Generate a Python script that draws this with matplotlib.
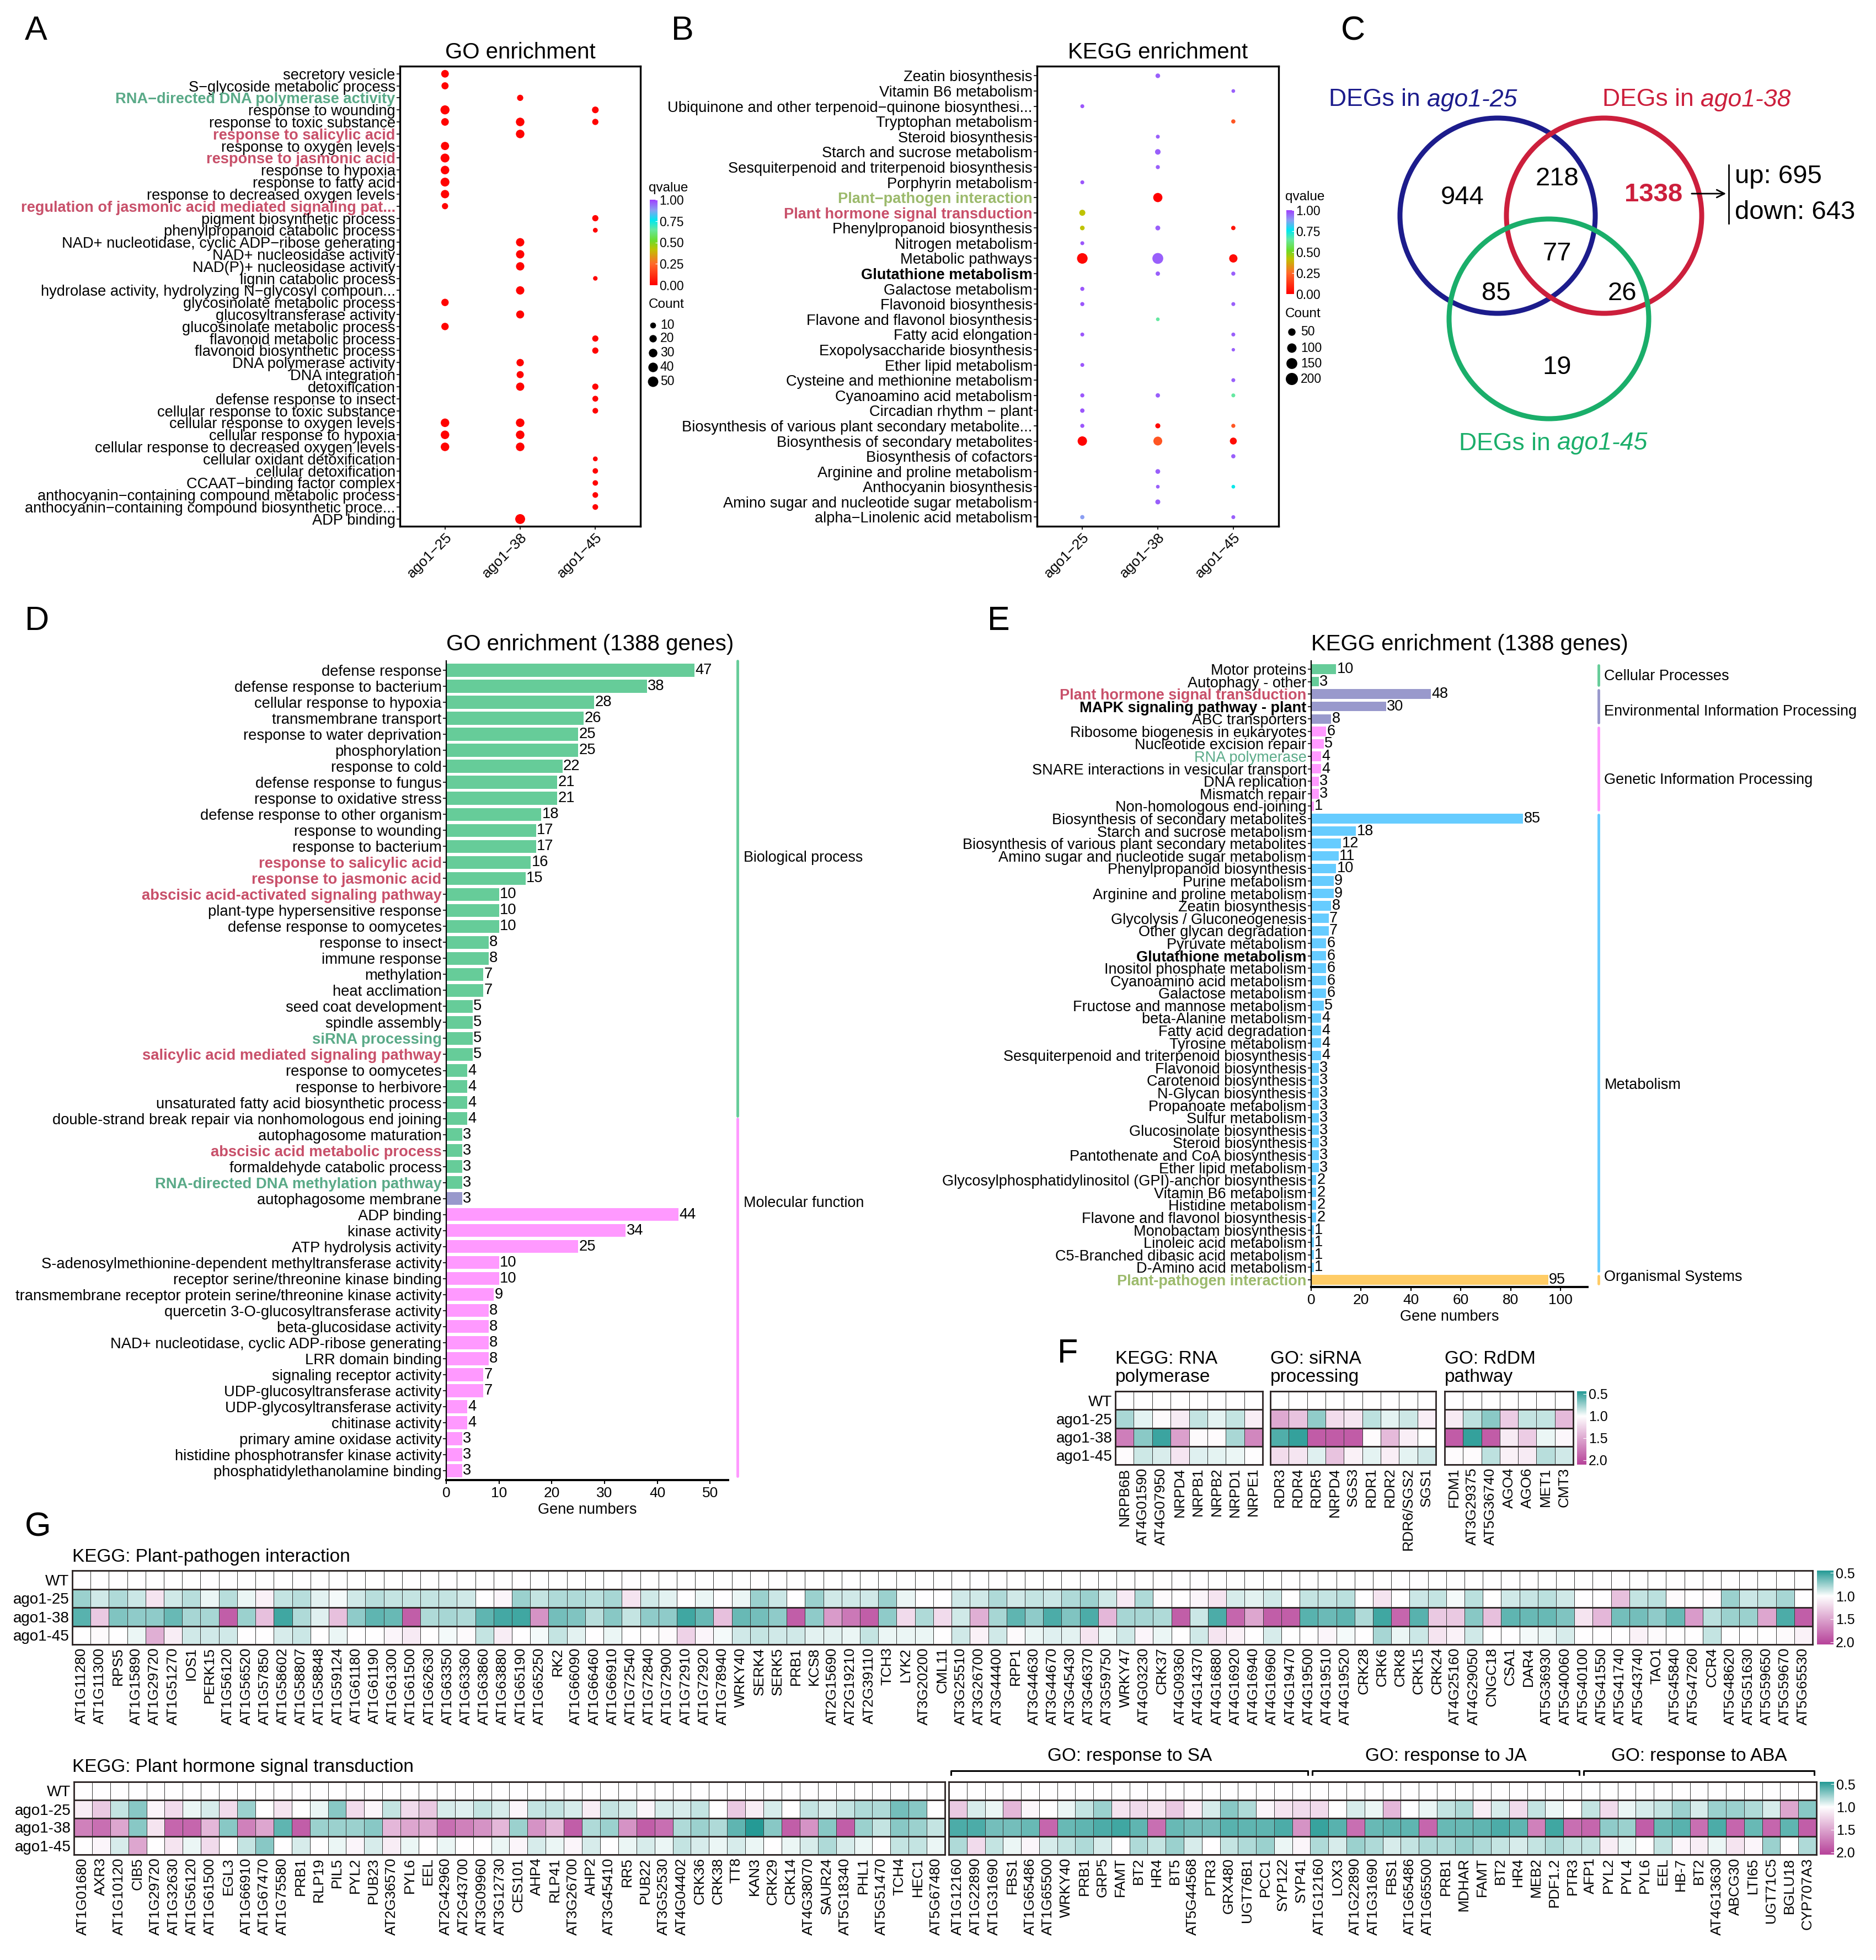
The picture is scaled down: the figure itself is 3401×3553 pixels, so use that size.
import numpy as np
import matplotlib
matplotlib.use('Agg')
import matplotlib.pyplot as plt
from matplotlib.colors import LinearSegmentedColormap, TwoSlopeNorm
from matplotlib.patches import Circle

W, H = 3401, 3553
plt.rcParams['font.family'] = ['Liberation Sans', 'DejaVu Sans']
fig = plt.figure(figsize=(W / 100, H / 100), dpi=100)

RED = '#c8506a'
GRN = '#5aaa88'
OLV = '#9cba6c'

# ---------------- data ----------------
samples = ['ago1−25', 'ago1−38', 'ago1−45']

A_terms = ["secretory vesicle", "S−glycoside metabolic process", "RNA−directed DNA polymerase activity",
           "response to wounding", "response to toxic substance", "response to salicylic acid",
           "response to oxygen levels", "response to jasmonic acid", "response to hypoxia",
           "response to fatty acid", "response to decreased oxygen levels",
           "regulation of jasmonic acid mediated signaling pat...", "pigment biosynthetic process",
           "phenylpropanoid catabolic process", "NAD+ nucleotidase, cyclic ADP−ribose generating",
           "NAD+ nucleosidase activity", "NAD(P)+ nucleosidase activity", "lignin catabolic process",
           "hydrolase activity, hydrolyzing N−glycosyl compoun...", "glycosinolate metabolic process",
           "glucosyltransferase activity", "glucosinolate metabolic process", "flavonoid metabolic process",
           "flavonoid biosynthetic process", "DNA polymerase activity", "DNA integration", "detoxification",
           "defense response to insect", "cellular response to toxic substance",
           "cellular response to oxygen levels", "cellular response to hypoxia",
           "cellular response to decreased oxygen levels", "cellular oxidant detoxification",
           "cellular detoxification", "CCAAT−binding factor complex",
           "anthocyanin−containing compound metabolic process",
           "anthocyanin−containing compound biosynthetic proce...", "ADP binding"]
A_count_25 = [22, 18, 0, 35, 22, 0, 27, 33, 30, 33, 28, 12, 0, 0, 0, 0, 0, 0, 0, 20, 0, 20, 0, 0, 0, 0, 0, 0, 0, 30, 30, 30, 0, 0, 0, 0, 0, 0]
A_count_38 = [0, 0, 12, 0, 30, 30, 0, 0, 0, 0, 0, 0, 0, 0, 28, 28, 28, 0, 28, 0, 25, 0, 0, 0, 20, 18, 27, 0, 0, 30, 30, 30, 0, 0, 0, 0, 0, 44]
A_count_45 = [0, 0, 0, 15, 12, 0, 0, 0, 0, 0, 0, 0, 12, 5, 0, 0, 0, 4, 0, 0, 0, 0, 12, 12, 0, 0, 12, 10, 9, 0, 0, 0, 5, 8, 8, 9, 9, 0]
A_q_25 = [0.01] * 38
A_q_38 = [0.01] * 38
A_q_45 = [0.01] * 38
A_red = {"response to salicylic acid", "response to jasmonic acid",
         "regulation of jasmonic acid mediated signaling pat..."}
A_green = {"RNA−directed DNA polymerase activity"}

B_terms = ["Zeatin biosynthesis", "Vitamin B6 metabolism", "Ubiquinone and other terpenoid−quinone biosynthesi...",
           "Tryptophan metabolism", "Steroid biosynthesis", "Starch and sucrose metabolism",
           "Sesquiterpenoid and triterpenoid biosynthesis", "Porphyrin metabolism", "Plant−pathogen interaction",
           "Plant hormone signal transduction", "Phenylpropanoid biosynthesis", "Nitrogen metabolism",
           "Metabolic pathways", "Glutathione metabolism", "Galactose metabolism", "Flavonoid biosynthesis",
           "Flavone and flavonol biosynthesis", "Fatty acid elongation", "Exopolysaccharide biosynthesis",
           "Ether lipid metabolism", "Cysteine and methionine metabolism", "Cyanoamino acid metabolism",
           "Circadian rhythm − plant", "Biosynthesis of various plant secondary metabolite...",
           "Biosynthesis of secondary metabolites", "Biosynthesis of cofactors", "Arginine and proline metabolism",
           "Anthocyanin biosynthesis", "Amino sugar and nucleotide sugar metabolism", "alpha−Linolenic acid metabolism"]
B_count_25 = [0, 0, 3, 0, 0, 0, 0, 3, 0, 25, 8, 3, 140, 0, 4, 4, 0, 3, 0, 3, 0, 4, 6, 4, 100, 0, 0, 0, 0, 5]
B_q_25 = [1, 1, 0.97, 1, 1, 1, 1, 0.97, 1, 0.42, 0.42, 0.97, 0.02, 1, 0.97, 0.97, 1, 0.97, 1, 0.97, 1, 0.97, 0.97, 0.97, 0.01, 1, 1, 1, 1, 0.88]
B_count_38 = [8, 0, 0, 0, 3, 18, 4, 0, 95, 0, 10, 0, 150, 6, 0, 0, 2, 0, 0, 0, 0, 6, 0, 12, 85, 0, 9, 2, 11, 0]
B_q_38 = [0.96, 1, 1, 1, 0.96, 0.96, 0.96, 1, 0.0, 1, 0.96, 1, 0.96, 0.96, 1, 1, 0.65, 1, 1, 1, 1, 0.96, 1, 0.02, 0.2, 1, 0.96, 0.96, 0.96, 1]
B_count_45 = [0, 2, 0, 5, 0, 0, 0, 0, 0, 0, 6, 0, 70, 4, 0, 3, 0, 3, 1, 0, 3, 3, 0, 4, 40, 5, 0, 2, 0, 3]
B_q_45 = [1, 0.96, 1, 0.2, 1, 1, 1, 1, 1, 1, 0.05, 1, 0.03, 0.96, 1, 0.96, 1, 0.96, 0.96, 1, 0.96, 0.65, 1, 0.2, 0.03, 0.96, 1, 0.75, 1, 0.96]

venn_only = {'ago1-25': 944, 'ago1-38': 1338, 'ago1-45': 19}
venn_pair = {'25_38': 218, '25_45': 85, '38_45': 26}
venn_all = 77
venn_up, venn_down = 695, 643

D_terms = ["defense response", "defense response to bacterium", "cellular response to hypoxia",
           "transmembrane transport", "response to water deprivation", "phosphorylation", "response to cold",
           "defense response to fungus", "response to oxidative stress", "defense response to other organism",
           "response to wounding", "response to bacterium", "response to salicylic acid",
           "response to jasmonic acid", "abscisic acid-activated signaling pathway",
           "plant-type hypersensitive response", "defense response to oomycetes", "response to insect",
           "immune response", "methylation", "heat acclimation", "seed coat development", "spindle assembly",
           "siRNA processing", "salicylic acid mediated signaling pathway", "response to oomycetes",
           "response to herbivore", "unsaturated fatty acid biosynthetic process",
           "double-strand break repair via nonhomologous end joining", "autophagosome maturation",
           "abscisic acid metabolic process", "formaldehyde catabolic process",
           "RNA-directed DNA methylation pathway", "autophagosome membrane", "ADP binding", "kinase activity",
           "ATP hydrolysis activity", "S-adenosylmethionine-dependent methyltransferase activity",
           "receptor serine/threonine kinase binding",
           "transmembrane receptor protein serine/threonine kinase activity",
           "quercetin 3-O-glucosyltransferase activity", "beta-glucosidase activity",
           "NAD+ nucleotidase, cyclic ADP-ribose generating", "LRR domain binding", "signaling receptor activity",
           "UDP-glucosyltransferase activity", "UDP-glycosyltransferase activity", "chitinase activity",
           "primary amine oxidase activity", "histidine phosphotransfer kinase activity",
           "phosphatidylethanolamine binding"]
D_counts = [47, 38, 28, 26, 25, 25, 22, 21, 21, 18, 17, 17, 16, 15, 10, 10, 10, 8, 8, 7, 7, 5, 5, 5, 5, 4, 4, 4, 4,
            3, 3, 3, 3, 3, 44, 34, 25, 10, 10, 9, 8, 8, 8, 8, 7, 7, 4, 4, 3, 3, 3]
D_ontology = ['BP'] * 33 + ['CC'] + ['MF'] * 17
D_red = {"response to salicylic acid", "response to jasmonic acid", "abscisic acid-activated signaling pathway",
         "salicylic acid mediated signaling pathway", "abscisic acid metabolic process"}
D_green = {"siRNA processing", "RNA-directed DNA methylation pathway"}

E_terms = ["Motor proteins", "Autophagy - other", "Plant hormone signal transduction",
           "MAPK signaling pathway - plant", "ABC transporters", "Ribosome biogenesis in eukaryotes",
           "Nucleotide excision repair", "RNA polymerase", "SNARE interactions in vesicular transport",
           "DNA replication", "Mismatch repair", "Non-homologous end-joining",
           "Biosynthesis of secondary metabolites", "Starch and sucrose metabolism",
           "Biosynthesis of various plant secondary metabolites", "Amino sugar and nucleotide sugar metabolism",
           "Phenylpropanoid biosynthesis", "Purine metabolism", "Arginine and proline metabolism",
           "Zeatin biosynthesis", "Glycolysis / Gluconeogenesis", "Other glycan degradation",
           "Pyruvate metabolism", "Glutathione metabolism", "Inositol phosphate metabolism",
           "Cyanoamino acid metabolism", "Galactose metabolism", "Fructose and mannose metabolism",
           "beta-Alanine metabolism", "Fatty acid degradation", "Tyrosine metabolism",
           "Sesquiterpenoid and triterpenoid biosynthesis", "Flavonoid biosynthesis", "Carotenoid biosynthesis",
           "N-Glycan biosynthesis", "Propanoate metabolism", "Sulfur metabolism", "Glucosinolate biosynthesis",
           "Steroid biosynthesis", "Pantothenate and CoA biosynthesis", "Ether lipid metabolism",
           "Glycosylphosphatidylinositol (GPI)-anchor biosynthesis", "Vitamin B6 metabolism",
           "Histidine metabolism", "Flavone and flavonol biosynthesis", "Monobactam biosynthesis",
           "Linoleic acid metabolism", "C5-Branched dibasic acid metabolism", "D-Amino acid metabolism",
           "Plant-pathogen interaction"]
E_counts = [10, 3, 48, 30, 8, 6, 5, 4, 4, 3, 3, 1, 85, 18, 12, 11, 10, 9, 9, 8, 7, 7, 6, 6, 6, 6, 6, 5, 4, 4, 4, 4,
            3, 3, 3, 3, 3, 3, 3, 3, 3, 2, 2, 2, 2, 1, 1, 1, 1, 95]
E_class = (['Cellular Processes'] * 2 + ['Environmental Information Processing'] * 3 +
           ['Genetic Information Processing'] * 7 + ['Metabolism'] * 37 + ['Organismal Systems'])

heat_rows = ['WT', 'ago1-25', 'ago1-38', 'ago1-45']

F1_genes = ["NRPB6B", "AT4G01590", "AT4G07950", "NRPD4", "NRPB1", "NRPB2", "NRPD1", "NRPE1"]
F1_25 = [0.78, 0.93, 1.03, 1.12, 0.85, 0.93, 0.85, 1.1]
F1_38 = [1.75, 0.7, 0.5, 1.55, 1.03, 1.02, 0.78, 1.7]
F1_45 = [1.02, 0.87, 0.9, 1.15, 0.92, 0.93, 0.95, 1.01]
F2_genes = ["RDR3", "RDR4", "RDR5", "NRPD4", "SGS3", "RDR1", "RDR2", "RDR6/SGS2", "SGS1"]
F2_25 = [1.5, 1.35, 0.72, 1.2, 1.15, 0.83, 0.93, 0.87, 1.1]
F2_38 = [0.55, 0.48, 1.95, 1.95, 1.95, 1.02, 1.4, 1.1, 1.0]
F2_45 = [1.2, 1.15, 0.92, 1.35, 1.08, 0.93, 1.1, 0.93, 0.88]
F3_genes = ["FDM1", "AT3G29375", "AT5G36740", "AGO4", "AGO6", "MET1", "CMT3"]
F3_25 = [1.12, 0.83, 0.7, 1.3, 0.85, 0.85, 1.4]
F3_38 = [1.95, 0.48, 1.95, 1.12, 1.3, 0.95, 1.05]
F3_45 = [1.02, 1.02, 0.83, 1.08, 1.12, 0.82, 0.88]

G1_genes = ["AT1G11280", "AT1G11300", "RPS5", "AT1G15890", "AT1G29720", "AT1G51270", "IOS1", "PERK15",
            "AT1G56120", "AT1G56520", "AT1G57850", "AT1G58602", "AT1G58807", "AT1G58848", "AT1G59124",
            "AT1G61180", "AT1G61190", "AT1G61300", "AT1G61500", "AT1G62630", "AT1G63350", "AT1G63360",
            "AT1G63860", "AT1G63880", "AT1G65190", "AT1G65250", "RK2", "AT1G66090", "AT1G66460", "AT1G66910",
            "AT1G72540", "AT1G72840", "AT1G72900", "AT1G72910", "AT1G72920", "AT1G78940", "WRKY40", "SERK4",
            "SERK5", "PRB1", "KCS8", "AT2G15690", "AT2G19210", "AT2G39110", "TCH3", "LYK2", "AT3G20200",
            "CML11", "AT3G25510", "AT3G26700", "AT3G44400", "RPP1", "AT3G44630", "AT3G44670", "AT3G45430",
            "AT3G46370", "AT3G59750", "WRKY47", "AT4G03230", "CRK37", "AT4G09360", "AT4G14370", "AT4G16880",
            "AT4G16920", "AT4G16940", "AT4G16960", "AT4G19470", "AT4G19500", "AT4G19510", "AT4G19520", "CRK28",
            "CRK6", "CRK8", "CRK15", "CRK24", "AT4G25160", "AT4G29050", "CNGC18", "CSA1", "DAR4", "AT5G36930",
            "AT5G40060", "AT5G40100", "AT5G41550", "AT5G41740", "AT5G43740", "TAO1", "AT5G45840", "AT5G47260",
            "CCR4", "AT5G48620", "AT5G51630", "AT5G59650", "AT5G59670", "AT5G65530"]
G1_25 = [0.75, 0.88, 0.8, 0.87, 1.15, 0.88, 0.82, 0.95, 0.82, 0.95, 1.08, 0.85, 0.82, 0.93, 0.97, 0.88, 0.82, 0.85,
         0.85, 0.85, 0.85, 0.88, 1.0, 1.05, 0.75, 0.85, 0.8, 0.8, 0.83, 0.78, 1.15, 0.88, 0.93, 1.0, 0.95, 1.0, 0.95,
         0.75, 0.87, 1.0, 0.75, 0.88, 0.88, 0.88, 0.75, 0.95, 1.0,
         1.0, 0.88, 0.88, 0.8, 0.88, 0.85, 0.87, 0.8, 0.75, 0.88, 1.12, 0.8, 1.03, 1.0, 1.05, 1.15, 0.9, 0.93, 0.88,
         1.0, 0.85, 0.85, 0.83, 1.0, 1.15, 1.0, 0.87, 0.85, 0.97, 0.83, 1.0, 0.88, 0.86, 0.83, 0.88, 1.0, 1.0, 1.35,
         0.85, 0.83, 1.03, 1.0, 1.02, 0.75, 0.87, 0.85, 0.78, 1.0]
G1_38 = [0.58, 1.3, 0.68, 0.72, 0.72, 0.62, 0.78, 0.78, 1.9, 0.75, 1.35, 0.52, 0.8, 0.92, 1.35, 0.72, 0.6, 0.62,
         1.9, 0.8, 0.78, 0.8, 0.6, 0.53, 0.52, 1.6, 0.65, 0.68, 0.82, 0.7, 0.85, 0.72, 0.72, 0.52, 0.62, 1.35, 0.62,
         0.65, 0.72, 1.9, 0.72, 1.55, 1.75, 1.9, 0.72, 1.2, 0.8,
         1.2, 0.88, 1.45, 0.78, 0.6, 0.72, 0.55, 0.68, 0.55, 1.4, 0.78, 0.78, 0.8, 1.9, 0.87, 0.55, 1.85, 1.5, 1.9,
         1.9, 0.58, 0.63, 0.6, 0.8, 0.52, 1.85, 0.58, 1.3, 1.3, 0.7, 1.35, 0.6, 0.62, 0.62, 0.68, 1.15, 1.4, 0.65,
         0.65, 0.72, 0.62, 1.55, 0.83, 0.75, 0.75, 1.5, 0.55, 1.9]
G1_45 = [1.0, 1.03, 1.0, 0.95, 1.45, 1.1, 0.88, 0.88, 0.88, 1.0, 1.0, 0.9, 0.87, 1.0, 0.95, 1.0, 1.0, 1.05, 1.12,
         1.0, 0.97, 1.03, 0.85, 1.1, 1.0, 0.97, 0.85, 0.93, 1.0, 0.95, 1.0, 1.0, 1.03, 1.25, 1.05, 0.97, 0.88, 0.85,
         0.88, 0.88, 0.93, 0.93, 0.95, 0.85, 0.95, 0.95, 0.95,
         1.0, 0.88, 1.08, 0.88, 1.03, 0.95, 0.92, 0.93, 1.15, 0.95, 0.88, 1.05, 0.95, 1.0, 0.88, 1.15, 1.08, 1.0, 0.9,
         1.0, 1.0, 1.05, 0.97, 1.0, 0.78, 0.95, 0.87, 1.15, 1.07, 0.88, 1.0, 1.0, 0.97, 0.95, 0.9, 1.0, 1.0, 1.0,
         1.08, 1.03, 1.0, 1.0, 0.85, 1.0, 1.0, 1.0, 1.03, 1.07]

G2_genes = ["AT1G01680", "AXR3", "AT1G10120", "CIB5", "AT1G29720", "AT1G32630", "AT1G56120", "AT1G61500", "EGL3",
            "AT1G66910", "AT1G67470", "AT1G75580", "PRB1", "RLP19", "PIL5", "PYL2", "PUB23", "AT2G36570", "PYL6",
            "EEL", "AT2G42960", "AT2G43700", "AT3G09960", "AT3G12730", "CES101", "AHP4", "RLP41", "AT3G26700",
            "AHP2", "AT3G45410", "RR5", "PUB22", "AT3G52530", "AT4G04402", "CRK36", "CRK38", "TT8", "KAN3",
            "CRK29", "CRK14", "AT4G38070", "SAUR24", "AT5G18340", "PHL1", "AT5G51470", "TCH4", "HEC1", "AT5G67480"]
G2_25 = [1.1, 1.3, 0.85, 0.7, 1.05, 1.2, 0.95, 0.9, 1.2, 0.75, 1.0, 1.15, 1.0, 0.95, 0.7, 1.2, 1.05, 0.85, 1.2, 1.3,
         0.9, 0.92, 0.85, 0.9, 1.05, 0.85, 0.85, 0.9, 1.1, 0.85, 0.9, 1.05, 0.9, 0.9, 0.85, 1.0, 1.3, 1.1, 0.9, 1.0,
         0.85, 0.9, 0.85, 0.8, 0.8, 0.65, 0.7, 1.0]
G2_38 = [1.7, 1.8, 1.5, 0.7, 1.15, 1.85, 1.85, 1.4, 0.7, 1.7, 1.5, 0.6, 1.9, 0.75, 0.75, 0.75, 0.7, 1.4, 1.5, 1.5,
         1.8, 1.7, 1.6, 1.4, 0.75, 1.6, 1.4, 1.9, 0.8, 0.75, 1.6, 1.9, 1.8, 0.8, 0.75, 0.8, 0.6, 0.45, 0.7, 1.9, 1.6,
         0.7, 1.9, 0.75, 0.85, 0.7, 0.75, 0.85]
G2_45 = [1.0, 1.05, 0.9, 1.5, 1.0, 1.15, 0.95, 1.2, 1.0, 0.85, 0.7, 1.0, 0.9, 1.0, 0.95, 1.05, 0.9, 1.1, 0.95, 1.0,
         0.95, 1.0, 1.0, 0.95, 1.05, 0.9, 0.95, 1.05, 0.9, 1.0, 0.95, 0.9, 0.95, 0.85, 0.9, 0.95, 0.9, 0.95, 1.0,
         0.95, 0.9, 0.8, 0.9, 0.95, 1.0, 0.85, 0.85, 0.95]

G3_groups = ["GO: response to SA", "GO: response to JA", "GO: response to ABA"]
G3_genes = ["AT1G12160", "AT1G22890", "AT1G31690", "FBS1", "AT1G65486", "AT1G65500", "WRKY40", "PRB1", "GRP5",
            "FAMT", "BT2", "HR4", "BT5", "AT5G44568", "PTR3", "GRX480", "UGT76B1", "PCC1", "SYP122", "SYP41",
            "AT1G12160", "LOX3", "AT1G22890", "AT1G31690", "FBS1", "AT1G65486", "AT1G65500", "PRB1", "MDHAR",
            "FAMT", "BT2", "HR4", "MEB2", "PDF1.2", "PTR3",
            "AFP1", "PYL2", "PYL4", "PYL6", "EEL", "HB-7", "BT2", "AT4G13630", "ABCG30", "LTI65", "UGT71C5",
            "BGLU18", "CYP707A3"]
G3_group_size = [20, 15, 13]
G3_25 = [1.3, 0.9, 0.95, 1.4, 1.05, 1.0, 0.95, 0.85, 0.75, 1.15, 1.2, 1.15, 1.3, 1.1, 0.9, 0.7, 0.8, 1.05, 1.15, 1.2,
         1.2, 1.0, 0.9, 0.95, 1.4, 1.0, 0.95, 0.85, 0.8, 1.1, 0.9, 1.2, 0.85, 0.95, 1.0,
         0.85, 1.2, 0.95, 0.9, 0.85, 0.75, 0.9, 0.75, 0.75, 0.8, 0.9, 1.5, 0.7]
G3_38 = [0.55, 0.55, 0.65, 0.65, 0.62, 1.85, 0.62, 0.6, 0.55, 0.52, 0.6, 1.8, 0.62, 0.65, 0.65, 0.58, 0.6, 0.6, 0.55,
         1.6, 0.5, 0.58, 1.8, 0.62, 0.6, 0.6, 1.85, 0.62, 0.62, 0.6, 0.55, 0.6, 1.7, 0.52, 1.8,
         1.85, 0.72, 0.75, 1.9, 0.62, 0.58, 1.8, 0.55, 1.85, 0.62, 1.85, 0.6, 1.9]
G3_45 = [0.8, 1.2, 0.85, 0.95, 1.05, 0.9, 0.85, 0.8, 0.9, 1.0, 0.8, 0.85, 0.75, 0.9, 1.0, 0.85, 0.8, 0.75, 0.95, 1.05,
         0.8, 0.9, 0.75, 0.8, 0.9, 0.85, 0.8, 0.8, 0.75, 0.8, 0.85, 0.9, 0.85, 0.8, 0.85,
         0.85, 1.1, 0.95, 1.0, 0.85, 1.05, 1.1, 0.95, 1.15, 1.05, 0.75, 1.0, 0.8]

# ---------------- helpers ----------------
def add_ax(x0, y0, x1, y1):
    return fig.add_axes([x0 / W, 1 - y1 / H, (x1 - x0) / W, (y1 - y0) / H])


def ftext(x, y, s, **kw):
    return fig.text(x / W, 1 - y / H, s, **kw)


qcmap = LinearSegmentedColormap.from_list('q', [(0, '#ff0000'), (0.25, '#ff6a2a'), (0.42, '#bfc300'),
                                                (0.52, '#6cdc2a'), (0.65, '#66e8a0'), (0.76, '#00e8f0'),
                                                (0.88, '#8aa0f2'), (1, '#a040ff')])
hcmap = LinearSegmentedColormap.from_list('h', ['#259a95', '#ffffff', '#b7439a'])


def size_A(c):
    d_px = 4 + 2.1 * np.sqrt(np.asarray(c, float))
    return (d_px * 0.72) ** 2


def size_B(c):
    d_px = 5 + 1.2 * np.sqrt(np.asarray(c, float))
    return (d_px * 0.72) ** 2


def dotplot(ax, terms, counts, qs, sizef, red=(), green=(), olive=(), bold=()):
    n = len(terms)
    ypos = np.arange(n)[::-1]
    for xi, (cnt, q) in enumerate(zip(counts, qs)):
        cnt = np.asarray(cnt, float)
        q = np.asarray(q, float)
        m = cnt > 0
        ax.scatter(np.full(m.sum(), xi + 1), ypos[m], s=sizef(cnt[m]), c=q[m], cmap=qcmap, vmin=0, vmax=1,
                   edgecolors='none', zorder=3)
    ax.set_xlim(0.4, 3.6)
    ax.set_ylim(-0.6, n - 1 + 0.63)
    ax.set_yticks(ypos)
    ax.set_yticklabels(terms, fontsize=19.6)
    for lab, t in zip(ax.get_yticklabels(), terms):
        if t in red:
            lab.set_color(RED); lab.set_fontweight('bold')
        elif t in green:
            lab.set_color(GRN); lab.set_fontweight('bold')
        elif t in olive:
            lab.set_color(OLV); lab.set_fontweight('bold')
        elif t in bold:
            lab.set_fontweight('bold')
    ax.set_xticks([1, 2, 3])
    ax.set_xticklabels(samples, rotation=45, ha='right', va='top', rotation_mode='anchor', fontsize=19)
    ax.tick_params(length=4, width=1.2, pad=2)
    for s in ax.spines.values():
        s.set_linewidth(2.4)


def qlegend(x0, y_title, y0, y1, cy_title):
    ftext(x0 - 2, y_title, 'qvalue', fontsize=17.5, va='baseline')
    cax = add_ax(x0, y0, x0 + 14, y1)
    grad = np.linspace(1, 0, 256).reshape(-1, 1)
    cax.imshow(grad, aspect='auto', cmap=qcmap, vmin=0, vmax=1, extent=[0, 1, 0, 1])
    cax.set_xticks([])
    cax.set_yticks([0, 0.25, 0.5, 0.75, 1.0])
    cax.set_yticklabels(['0.00', '0.25', '0.50', '0.75', '1.00'], fontsize=16.5)
    cax.yaxis.tick_right()
    cax.tick_params(axis='y', length=3, color='white', direction='in', pad=2)
    for s in cax.spines.values():
        s.set_visible(False)
    ftext(x0 - 2, cy_title, 'Count', fontsize=17.5, va='baseline')


# ---------------- A ----------------
axA = add_ax(725, 120, 1161, 954)
dotplot(axA, A_terms, [A_count_25, A_count_38, A_count_45], [A_q_25, A_q_38, A_q_45], size_A,
        red=A_red, green=A_green)
axA.set_title('GO enrichment', fontsize=29, pad=10)

# ---------------- B ----------------
axB = add_ax(1880, 120, 2318, 954)
dotplot(axB, B_terms, [B_count_25, B_count_38, B_count_45], [B_q_25, B_q_38, B_q_45], size_B,
        red={"Plant hormone signal transduction"}, olive={"Plant−pathogen interaction"},
        bold={"Glutathione metabolism"})
axB.set_title('KEGG enrichment', fontsize=29, pad=10)

# overlay axes in pixel coordinates
ov = fig.add_axes([0, 0, 1, 1])
ov.set_xlim(0, W)
ov.set_ylim(H, 0)
ov.axis('off')

# legends for A and B
qlegend(1178, 347, 362, 517, 558)
A_leg_counts = [10, 20, 30, 40, 50]
ov.scatter([1184] * 5, [590, 614, 640, 666, 692], s=size_A(A_leg_counts), c='black', edgecolors='none')
for v, yy in zip(A_leg_counts, [590, 614, 640, 666, 692]):
    ov.text(1197, yy, str(v), fontsize=16.5, va='center')
qlegend(2332, 363, 381, 533, 575)
B_leg_counts = [50, 100, 150, 200]
ov.scatter([2342] * 4, [602, 631, 659, 687], s=size_B(B_leg_counts), c='black', edgecolors='none')
for v, yy in zip(B_leg_counts, [602, 631, 659, 687]):
    ov.text(2358, yy, str(v), fontsize=16.5, va='center')

# ---------------- C (Venn) ----------------
NAVY, VRED, VGRN = '#1c1c8c', '#cc1f3c', '#1aae6a'
for (cx, cy, r, col) in [(2715, 391, 177, NAVY), (2908, 391, 177, VRED), (2808, 578, 181, VGRN)]:
    ov.add_patch(Circle((cx, cy), r, fill=False, ec=col, lw=6.5))
vfs = 34
lfs = 32
renderer = fig.canvas.get_renderer()


def mixed(x, y, parts, color, fs):
    for txt, style in parts:
        t = ov.text(x, y, txt, color=color, fontsize=fs, style=style, ha='left', va='center')
        bb = t.get_window_extent(renderer=renderer)
        x += bb.width + fs * 0.278 * 100 / 72


mixed(2409, 181, [('DEGs in', 'normal'), ('ago1-25', 'italic')], NAVY, lfs)
mixed(2905, 181, [('DEGs in', 'normal'), ('ago1-38', 'italic')], VRED, lfs)
mixed(2645, 804, [('DEGs in', 'normal'), ('ago1-45', 'italic')], VGRN, lfs)
ov.text(2651, 358, str(venn_only['ago1-25']), fontsize=vfs, ha='center', va='center')
ov.text(2823, 324, str(venn_pair['25_38']), fontsize=vfs, ha='center', va='center')
ov.text(2998, 353, str(venn_only['ago1-38']), fontsize=vfs, ha='center', va='center', color=VRED,
        fontweight='bold')
ov.text(2823, 460, str(venn_all), fontsize=vfs, ha='center', va='center')
ov.text(2712, 532, str(venn_pair['25_45']), fontsize=vfs, ha='center', va='center')
ov.text(2941, 532, str(venn_pair['38_45']), fontsize=vfs, ha='center', va='center')
ov.text(2823, 666, str(venn_only['ago1-45']), fontsize=vfs, ha='center', va='center')
ov.annotate('', xy=(3132, 351), xytext=(3064, 351),
            arrowprops=dict(arrowstyle='->', lw=2, color='black', mutation_scale=25))
ov.plot([3134, 3134], [299, 405], color='black', lw=2)
ov.text(3145, 320, f'up: {venn_up}', fontsize=vfs, ha='left', va='center')
ov.text(3145, 385, f'down: {venn_down}', fontsize=vfs, ha='left', va='center')

# ---------------- D ----------------
ont_col = {'BP': '#66cc99', 'CC': '#9999cc', 'MF': '#ff99ff'}
axD = add_ax(809, 1198, 1320, 2683)
nD = len(D_terms)
yD = np.arange(nD)
axD.barh(yD, D_counts, height=0.81, color=[ont_col[o] for o in D_ontology])
axD.set_ylim(nD - 1 + 0.59, -0.59)
axD.set_xlim(0, 53.4)
axD.set_yticks(yD)
axD.set_yticklabels(D_terms, fontsize=19.7)
for lab, t in zip(axD.get_yticklabels(), D_terms):
    if t in D_red:
        lab.set_color(RED); lab.set_fontweight('bold')
    elif t in D_green:
        lab.set_color(GRN); lab.set_fontweight('bold')
for yy, c in zip(yD, D_counts):
    axD.text(c + 0.15, yy, str(c), va='center', ha='left', fontsize=19.7)
axD.set_xticks([0, 10, 20, 30, 40, 50])
axD.tick_params(axis='x', labelsize=19, length=5, width=1.5)
axD.tick_params(axis='y', length=4, width=1.2, pad=2)
axD.set_xlabel('Gene numbers', fontsize=19.5, labelpad=4)
axD.spines['top'].set_visible(False)
axD.spines['right'].set_visible(False)
axD.spines['left'].set_linewidth(1.6)
axD.spines['bottom'].set_linewidth(2.8)
axD.set_title('GO enrichment (1388 genes)', fontsize=29, loc='left', pad=14)
for (a, b, col) in [(-0.6, 27.85, ont_col['BP']), (28.0, 50.35, ont_col['MF'])]:
    axD.plot([55.2, 55.2], [a, b], color=col, lw=3.5, clip_on=False, solid_capstyle='round')
axD.text(56.3, 11.7, 'Biological process', fontsize=19.4, va='center', clip_on=False)
axD.text(56.3, 33.3, 'Molecular function', fontsize=19.4, va='center', clip_on=False)

# ---------------- E ----------------
cls_col = {'Cellular Processes': '#66cc99', 'Environmental Information Processing': '#9999cc',
           'Genetic Information Processing': '#ff99ff', 'Metabolism': '#66ccff', 'Organismal Systems': '#ffcc66'}
axE = add_ax(2377, 1198, 2878, 2333)
nE = len(E_terms)
yE = np.arange(nE)
axE.barh(yE, E_counts, height=0.77, color=[cls_col[c] for c in E_class])
axE.set_ylim(nE - 1 + 0.58, -0.66)
axE.set_xlim(0, 110.8)
axE.set_yticks(yE)
axE.set_yticklabels(E_terms, fontsize=19.5)
for lab, t in zip(axE.get_yticklabels(), E_terms):
    if t == "Plant hormone signal transduction":
        lab.set_color(RED); lab.set_fontweight('bold')
    elif t in ("MAPK signaling pathway - plant", "Glutathione metabolism"):
        lab.set_fontweight('bold')
    elif t == "RNA polymerase":
        lab.set_color(GRN)
    elif t == "Plant-pathogen interaction":
        lab.set_color(OLV); lab.set_fontweight('bold')
for yy, c in zip(yE, E_counts):
    axE.text(c + 0.3, yy, str(c), va='center', ha='left', fontsize=19.5)
axE.set_xticks([0, 20, 40, 60, 80, 100])
axE.tick_params(axis='x', labelsize=19, length=5, width=1.5)
axE.tick_params(axis='y', length=4, width=1.2, pad=2)
axE.set_xlabel('Gene numbers', fontsize=19.5, labelpad=4)
axE.spines['top'].set_visible(False)
axE.spines['right'].set_visible(False)
axE.spines['left'].set_linewidth(1.6)
axE.spines['bottom'].set_linewidth(2.8)
axE.set_title('KEGG enrichment (1388 genes)', fontsize=29, loc='left', pad=14)
cls_names = list(cls_col.keys())
cls_label_y = {'Cellular Processes': 0.6, 'Environmental Information Processing': 3.4,
               'Genetic Information Processing': 8.9, 'Metabolism': 33.4, 'Organismal Systems': 48.8}
for cname in cls_names:
    idx = [i for i, c in enumerate(E_class) if c == cname]
    axE.plot([115.3, 115.3], [min(idx) - 0.3, max(idx) + 0.3], color=cls_col[cname], lw=3.5,
             clip_on=False, solid_capstyle='round')
    axE.text(117.5, cls_label_y[cname], cname, fontsize=19.5, va='center', clip_on=False)


# ---------------- heatmaps ----------------
def heat(ax, genes, rows, norm, show_rows=True, gfs=19):
    data = np.array(rows, float)
    n = data.shape[1]
    ax.pcolormesh(np.arange(n + 1), np.arange(5), data, cmap=hcmap, norm=norm, edgecolors='#3a3a3a',
                  linewidth=0.7)
    ax.set_xlim(0, n)
    ax.set_ylim(4, 0)
    for yy in range(5):
        ax.axhline(yy, color='#2b2323', lw=2.0)
    ax.set_xticks(np.arange(n) + 0.5)
    ax.set_xticklabels(genes, rotation=90, fontsize=gfs, ha='center', va='top')
    ax.set_yticks(np.arange(4) + 0.5)
    if show_rows:
        ax.set_yticklabels(heat_rows, fontsize=20)
    else:
        ax.set_yticklabels([])
    ax.tick_params(length=0, pad=4)
    for s in ax.spines.values():
        s.set_linewidth(2.0)
        s.set_color('#2b2323')


def hcbar(x0, y0, x1, y1, vmin, vmax, norm):
    cax = add_ax(x0, y0, x1, y1)
    vals = np.linspace(vmin, vmax, 256).reshape(-1, 1)
    cax.imshow(vals, aspect='auto', cmap=hcmap, norm=norm, extent=[0, 1, vmax, vmin])
    cax.set_ylim(vmax, vmin)
    cax.set_xticks([])
    cax.set_yticks([0.5, 1.0, 1.5, 2.0])
    cax.set_yticklabels(['0.5', '1.0', '1.5', '2.0'], fontsize=18)
    cax.yaxis.tick_right()
    cax.tick_params(axis='y', length=4, color='white', direction='in', pad=3)
    for s in cax.spines.values():
        s.set_visible(False)


# F
normF = TwoSlopeNorm(vmin=0.44, vcenter=1.0, vmax=2.1)
wt = lambda n: [1.0] * n
axF1 = add_ax(2022, 2522, 2289, 2655)
heat(axF1, F1_genes, [wt(len(F1_genes)), F1_25, F1_38, F1_45], normF)
axF2 = add_ax(2303, 2522, 2603, 2655)
heat(axF2, F2_genes, [wt(len(F2_genes)), F2_25, F2_38, F2_45], normF, show_rows=False)
axF3 = add_ax(2619, 2522, 2852, 2655)
heat(axF3, F3_genes, [wt(len(F3_genes)), F3_25, F3_38, F3_45], normF, show_rows=False)
hcbar(2859, 2522, 2876, 2655, 0.44, 2.1, normF)
ftext(2022, 2480, 'KEGG: RNA\npolymerase', fontsize=24, va='center', linespacing=1.05)
ftext(2303, 2480, 'GO: siRNA\nprocessing', fontsize=24, va='center', linespacing=1.05)
ftext(2619, 2480, 'GO: RdDM\npathway', fontsize=24, va='center', linespacing=1.05)

# G
normG = TwoSlopeNorm(vmin=0.45, vcenter=1.0, vmax=2.05)
axG1 = add_ax(131, 2847, 3286, 2981)
heat(axG1, G1_genes, [wt(len(G1_genes)), G1_25, G1_38, G1_45], normG)
hcbar(3294, 2847, 3324, 2981, 0.45, 2.05, normG)
ftext(131, 2831, 'KEGG: Plant-pathogen interaction', fontsize=24, va='baseline')

axG2 = add_ax(134, 3230, 1713, 3362)
heat(axG2, G2_genes, [wt(len(G2_genes)), G2_25, G2_38, G2_45], normG)
axG3 = add_ax(1720, 3230, 3293, 3362)
heat(axG3, G3_genes, [wt(len(G3_genes)), G3_25, G3_38, G3_45], normG, show_rows=False)
hcbar(3299, 3230, 3325, 3362, 0.45, 2.05, normG)
ftext(131, 3212, 'KEGG: Plant hormone signal transduction', fontsize=24, va='baseline')
start = 0
for gname, gs in zip(G3_groups, G3_group_size):
    a, b = start, start + gs
    axG3.plot([a + 0.12, a + 0.12, b - 0.12, b - 0.12], [-0.38, -0.62, -0.62, -0.38], color='black', lw=2.2,
              clip_on=False)
    axG3.text((a + b) / 2, -0.95, gname, ha='center', va='bottom', fontsize=24, clip_on=False)
    start = b

# panel letters
for letter, (x, y) in {'A': (45, 57), 'B': (1217, 57), 'C': (2431, 57), 'D': (45, 1126), 'E': (1790, 1126),
                       'F': (1917, 2454), 'G': (45, 2769)}.items():
    ftext(x, y, letter, fontsize=44, va='center', ha='left')

fig.savefig('out.png', dpi=100)
